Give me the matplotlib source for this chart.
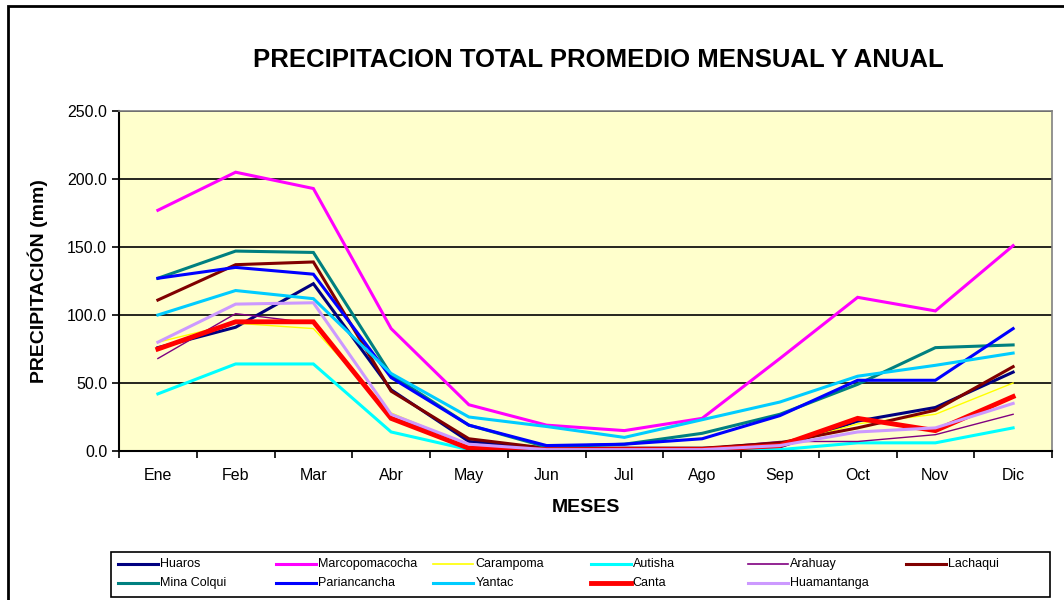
import matplotlib.pyplot as plt
from matplotlib.patches import Rectangle
from matplotlib.lines import Line2D
import numpy as np

plt.rcParams['font.family'] = ['Liberation Sans', 'DejaVu Sans']

meses = ['Ene', 'Feb', 'Mar', 'Abr', 'May', 'Jun', 'Jul', 'Ago', 'Sep', 'Oct', 'Nov', 'Dic']

huaros = [76, 91, 123, 45, 7, 2, 2, 2, 3, 22, 32, 58]
marcopomacocha = [177, 205, 193, 90, 34, 19, 15, 24, 68, 113, 103, 151]
carampoma = [80, 94, 90, 28, 4, 1, 1, 1, 4, 20, 27, 50]
autisha = [42, 64, 64, 14, 1, 0, 0, 0, 1, 6, 6, 17]
arahuay = [68, 101, 94, 25, 5, 1, 1, 2, 7, 7, 12, 27]
lachaqui = [111, 137, 139, 44, 9, 2, 2, 2, 6, 17, 30, 62]
mina_colqui = [127, 147, 146, 56, 19, 3, 5, 13, 27, 49, 76, 78]
pariancancha = [127, 135, 130, 54, 19, 4, 5, 9, 26, 52, 52, 90]
yantac = [100, 118, 112, 57, 25, 18, 10, 23, 36, 55, 63, 72]
canta = [75, 95, 95, 24, 2, 1, 1, 1, 4, 24, 15, 40]
huamantanga = [80, 108, 109, 27, 5, 1, 1, 1, 4, 14, 17, 35]

series = [
    ('Huaros', huaros, '#000080', 2.2),
    ('Marcopomacocha', marcopomacocha, '#FF00FF', 2.2),
    ('Carampoma', carampoma, '#FFFF00', 1.0),
    ('Autisha', autisha, '#00FFFF', 2.2),
    ('Arahuay', arahuay, '#800080', 1.0),
    ('Lachaqui', lachaqui, '#800000', 2.2),
    ('Mina Colqui', mina_colqui, '#008080', 2.2),
    ('Pariancancha', pariancancha, '#0000FF', 2.2),
    ('Yantac', yantac, '#00CCFF', 2.2),
    ('Canta', canta, '#FF0000', 3.5),
    ('Huamantanga', huamantanga, '#CC99FF', 2.2),
]

W, H = 1064, 600
fig = plt.figure(figsize=(W / 100, H / 100), dpi=100)
ax = fig.add_axes([119 / W, 1 - 451 / H, (1052 - 119) / W, (451 - 111) / H])
ax.set_facecolor('#FFFFCC')

x = np.arange(len(meses))
for name, vals, color, lw in series:
    ax.plot(x, vals, color=color, lw=lw, label=name, solid_joinstyle='miter')

ax.set_xlim(-0.5, 11.5)
ax.set_ylim(0, 250)
ax.set_yticks(np.arange(0, 251, 50))
ax.set_yticklabels([f'{v:.1f}' for v in np.arange(0, 251, 50)], fontsize=11.5)
ax.yaxis.grid(True, color='black', lw=1.2)
ax.set_axisbelow(True)

ax.set_xticks(x)
ax.set_xticklabels(meses, fontsize=11.5)
ax.tick_params(axis='x', which='major', length=0, pad=12)
ax.set_xticks(np.arange(-0.5, 12, 1), minor=True)
ax.tick_params(axis='x', which='minor', length=5, width=1.2, direction='out')
ax.tick_params(axis='y', length=5, width=1.2, direction='out')

for s in ['top', 'right']:
    ax.spines[s].set_color('#808080')
    ax.spines[s].set_linewidth(1.2)
for s in ['left', 'bottom']:
    ax.spines[s].set_linewidth(1.5)

ax.set_xlabel('MESES', fontsize=14, fontweight='bold', labelpad=12)
ax.set_ylabel('PRECIPITACIÓN (mm)', fontsize=14, fontweight='bold', labelpad=14)

fig.text(598 / W, 1 - 60 / H, 'PRECIPITACION TOTAL PROMEDIO MENSUAL Y ANUAL',
         ha='center', va='center', fontsize=18.5, fontweight='bold')

# outer chart border
fig.patches.append(Rectangle((8 / W, -0.05), 1.1, 1 - 6 / H + 0.05,
                             transform=fig.transFigure, fill=False,
                             edgecolor='black', lw=2))

# legend drawn by hand: 6 equal columns, filled row by row
fig.patches.append(Rectangle((111 / W, 1 - 597 / H), (1050 - 111) / W, 45 / H,
                             transform=fig.transFigure, facecolor='white',
                             edgecolor='black', lw=1.2))
for i, (name, vals, color, lw) in enumerate(series):
    row, col = divmod(i, 6)
    x0 = 118 + col * 157.6
    y0 = 1 - (564 + row * 19) / H
    fig.add_artist(Line2D([x0 / W, (x0 + 40) / W], [y0, y0], color=color,
                          lw=max(lw, 2.2) if lw > 1 else 1.2,
                          transform=fig.transFigure))
    fig.text((x0 + 42) / W, y0, name, ha='left', va='center', fontsize=9)

fig.savefig('out.png', dpi=100)
